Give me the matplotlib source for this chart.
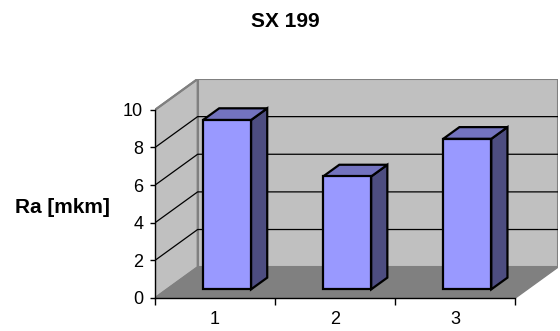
import matplotlib

matplotlib.use("Agg")
import matplotlib.pyplot as plt
from matplotlib.patches import Polygon

plt.rcParams["font.family"] = ["Liberation Sans", "DejaVu Sans"]

TITLE = "SX 199"
Y_LABEL = "Ra [mkm]"
CATEGORIES = ["1", "2", "3"]
RA_VALUES = [9, 6, 8]
Y_TICKS = [0, 2, 4, 6, 8, 10]

# oblique depth of the 3-D box, in data units
DX, DY = 0.355, 1.64
Y_MAX = 10
BAR_X0, BAR_X1 = 0.30, 0.70
BAR_Z0, BAR_Z1 = 0.28, 0.66

FRONT = "#9999FF"
SIDE = "#4D4D80"
TOP = "#7373BF"
WALL = "#C0C0C0"
FLOOR = "#808080"


def proj(x, y, z):
    return (x + z * DX, y + z * DY)


def face(ax, pts, color, edge, lw, z):
    ax.add_patch(Polygon([proj(*p) for p in pts], closed=True, facecolor=color,
                         edgecolor=edge, linewidth=lw, zorder=z, joinstyle="miter"))


fig = plt.figure(figsize=(5.6, 3.31), dpi=100)
ax = fig.add_axes([155 / 560, 33 / 331, 403 / 560, 219 / 331])
n = len(CATEGORIES)
ax.set_xlim(0, n + DX)
ax.set_ylim(0, Y_MAX + DY)

# walls and floor
face(ax, [(0, 0, 1), (n, 0, 1), (n, Y_MAX, 1), (0, Y_MAX, 1)], WALL, "#808080", 1.5, 1)
face(ax, [(0, 0, 0), (0, 0, 1), (0, Y_MAX, 1), (0, Y_MAX, 0)], WALL, "#808080", 1.5, 1)
face(ax, [(0, 0, 0), (n, 0, 0), (n, 0, 1), (0, 0, 1)], FLOOR, "#808080", 1.0, 2)

# gridlines across the back wall and the left wall
for v in Y_TICKS[1:-1]:
    xs, ys = zip(proj(0, v, 0), proj(0, v, 1), proj(n, v, 1))
    ax.plot(xs, ys, color="black", lw=0.9, zorder=1.5)
xs, ys = zip(proj(0, Y_MAX, 0), proj(0, Y_MAX, 1))
ax.plot(xs, ys, color="#808080", lw=1.5, zorder=1.5)

# bars
for i, v in enumerate(RA_VALUES):
    x0, x1 = i + BAR_X0, i + BAR_X1
    face(ax, [(x1, 0, BAR_Z0), (x1, 0, BAR_Z1), (x1, v, BAR_Z1), (x1, v, BAR_Z0)], SIDE, "black", 1.6, 3)
    face(ax, [(x0, v, BAR_Z0), (x1, v, BAR_Z0), (x1, v, BAR_Z1), (x0, v, BAR_Z1)], TOP, "black", 1.6, 3)
    face(ax, [(x0, 0, BAR_Z0), (x1, 0, BAR_Z0), (x1, v, BAR_Z0), (x0, v, BAR_Z0)], FRONT, "black", 1.6, 4)

for side in ["top", "right"]:
    ax.spines[side].set_visible(False)
ax.spines["left"].set_bounds(0, Y_MAX)
ax.spines["bottom"].set_bounds(0, n)
for side in ["left", "bottom"]:
    ax.spines[side].set_zorder(5)
    ax.spines[side].set_linewidth(1.0)

ax.set_yticks(Y_TICKS)
ax.tick_params(axis="y", length=3.5, width=1, pad=5, labelsize=13)
ax.set_xticks(range(n + 1))
ax.set_xticklabels([""] * (n + 1))
ax.set_xticks([i + 0.5 for i in range(n)], minor=True)
ax.set_xticklabels(CATEGORIES, minor=True)
ax.tick_params(axis="x", which="major", length=5, width=1)
ax.tick_params(axis="x", which="minor", length=0, pad=9, labelsize=13)

fig.text(285 / 560, 1 - 27 / 331, TITLE, ha="center", va="baseline", fontsize=15, fontweight="bold")
fig.text(62 / 560, 1 - 213 / 331, Y_LABEL, ha="center", va="baseline", fontsize=15, fontweight="bold")

fig.savefig("out.png", dpi=100)
